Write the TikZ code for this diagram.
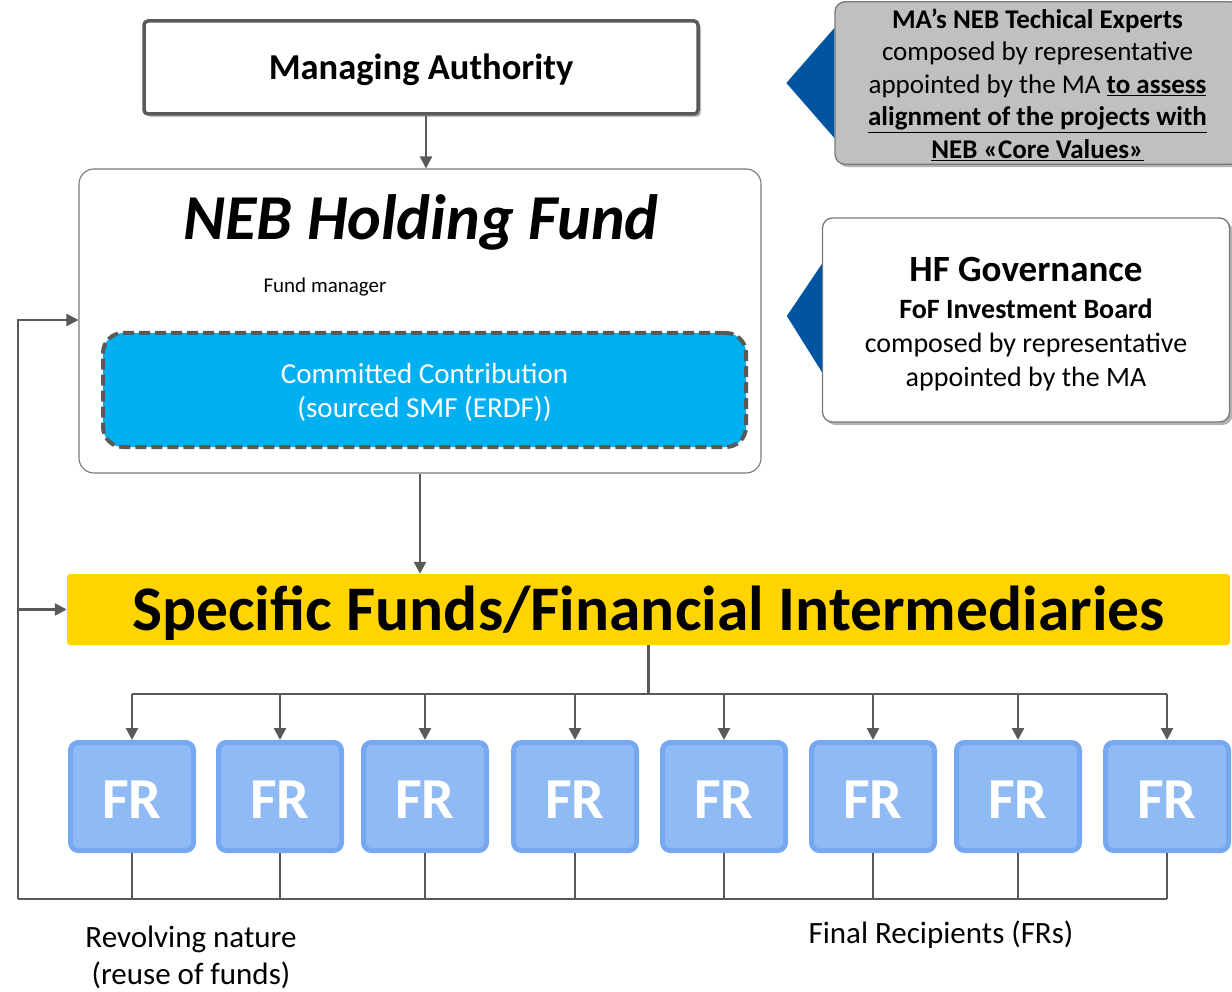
\documentclass[tikz,border=0pt]{standalone}
\usepackage{fontspec}
\setmainfont{Carlito}
\usetikzlibrary{arrows.meta,shadows,calc}
\definecolor{linegray}{RGB}{89,89,89}
\definecolor{boxgray}{RGB}{120,120,120}
\definecolor{calloutgray}{RGB}{192,192,192}
\definecolor{triblue}{RGB}{0,84,160}
\definecolor{cyanfill}{RGB}{0,176,240}
\definecolor{gold}{RGB}{255,212,0}
\definecolor{frfill}{RGB}{143,186,243}
\definecolor{frborder}{RGB}{117,168,240}
\newcommand{\fsz}[2]{\fontsize{#1}{#2}\selectfont}
\newcommand{\dn}[2]{\raisebox{-#1pt}[\height][\depth]{#2}}
\tikzset{
  mabox/.style={draw=linegray, line width=3.5pt, fill=white, rounded corners=4pt, inner sep=0pt,
    minimum width=554pt, minimum height=93pt,
    drop shadow={shadow xshift=3pt, shadow yshift=-3pt, fill=black, opacity=0.25}},
  nebbox/.style={draw=boxgray, line width=1.1pt, fill=white, rounded corners=15pt, inner sep=0pt,
    minimum width=682pt, minimum height=304pt},
  ccbox/.style={draw=linegray, line width=4pt, dash pattern=on 11pt off 5pt, fill=cyanfill,
    rounded corners=20pt, inner sep=0pt, minimum width=643pt, minimum height=114pt,
    text=white, align=center, font=\fsz{29}{34}},
  sfibox/.style={fill=gold, rounded corners=3pt, inner sep=0pt, minimum width=1163pt, minimum height=71pt,
    font=\fsz{63.5}{70}\bfseries},
  frbox/.style={draw=frborder, line width=5pt, fill=frfill, rounded corners=8pt, inner sep=0pt,
    minimum width=123pt, minimum height=108pt, text=white, font=\fsz{58}{60}\bfseries},
  callout/.style={draw=boxgray, line width=1.3pt, rounded corners=10pt, inner sep=0pt, align=center,
    drop shadow={shadow xshift=3pt, shadow yshift=-3pt, fill=black, opacity=0.3}},
  conn/.style={draw=linegray, line width=2.4pt},
  arr/.style={draw=linegray, line width=2.4pt, -{Triangle[length=12pt,width=12pt]}},
  lbl/.style={inner sep=0pt, align=center, font=\fsz{31}{37}},
}
\begin{document}
\begin{tikzpicture}[x=1pt,y=-1pt]
\useasboundingbox (0,0) rectangle (1232,992);

% Managing Authority
\node[mabox, font=\fsz{36.5}{40}\bfseries] (ma) at (421,67.5) {\dn{2.5}{Managing Authority}};

% NEB Holding Fund
\node[nebbox] (neb) at (420,321) {};
\node[inner sep=0pt, font=\fsz{64}{70}\bfseries\itshape] (nebtitle) at (421,222) {NEB Holding Fund};
\node[inner sep=0pt, font=\fsz{21}{24}] (fm) at (325,287) {Fund manager};
\node[ccbox] (cc) at (424.5,390) {\dn{4}{\begin{tabular}{@{}c@{}}Committed Contribution\\(sourced SMF (ERDF))\end{tabular}}};

% Specific funds
\node[sfibox] (sfi) at (648.5,609.5) {\dn{4}{Specific Funds/Financial Intermediaries}};

% FR boxes
\foreach \i/\cx in {1/132,2/280,3/425,4/575,5/724,6/873,7/1018,8/1167}{
  \node[frbox] (fr\i) at (\cx,796.5) {\dn{3}{FR}};
}

% callouts
\node[callout, fill=calloutgray, minimum width=405pt, minimum height=156pt, font=\fsz{27}{32.5}] (tech) at (1037.5,83)
  {\dn{4}{\begin{tabular}{@{}c@{}}\textbf{MA’s NEB Techical Experts}\\
   composed by representative\\
   appointed by the MA \underline{\textbf{to assess}}\\
   \underline{\textbf{alignment of the projects with}}\\
   \underline{\textbf{NEB «Core Values»}}\end{tabular}}};
\fill[triblue] ($(tech.west)+(0,-55)$) -- ($(tech.west)+(-48,0)$) -- ($(tech.west)+(0,55)$) -- cycle;

\node[callout, fill=white, minimum width=407pt, minimum height=204pt, font=\fsz{28}{34}] (hf) at (1026,320)
  {\dn{7}{\begin{tabular}{@{}c@{}}{\fsz{37}{40}\bfseries HF Governance}\\[3pt]
   \textbf{FoF Investment Board}\\
   composed by representative\\
   appointed by the MA\end{tabular}}};
\fill[triblue] ($(hf.west)+(0,-56)$) -- ($(hf.west)+(-35,-4)$) -- ($(hf.west)+(0,52)$) -- cycle;

% connectors
\draw[arr] (ma.south -| 426,0) -- (neb.north -| 426,0);
\draw[arr] (neb.south) -- (neb.south |- sfi.north);

\coordinate (dist) at (648,694);
\draw[conn] (sfi.south) -- (sfi.south |- dist);
\draw[conn] (fr1.north |- dist) -- (fr8.north |- dist);
\foreach \i in {1,...,8}{
  \draw[arr] (fr\i.north |- dist) -- (fr\i.north);
}

\coordinate (bl) at (18,899);
\coordinate (y320) at (0,320);
\foreach \i in {1,...,8}{
  \draw[conn] (fr\i.south) -- (fr\i.south |- bl);
}
\draw[conn] (fr8.south |- bl) -- (bl);
\draw[arr] (bl) |- (neb.west |- y320);
\draw[arr] (bl |- sfi.west) -- (sfi.west);

% labels
\node[lbl] (rev) at (191,957) {Revolving nature\\(reuse of funds)};
\node[lbl] (frs) at (941,935) {Final Recipients (FRs)};
\end{tikzpicture}
\end{document}
